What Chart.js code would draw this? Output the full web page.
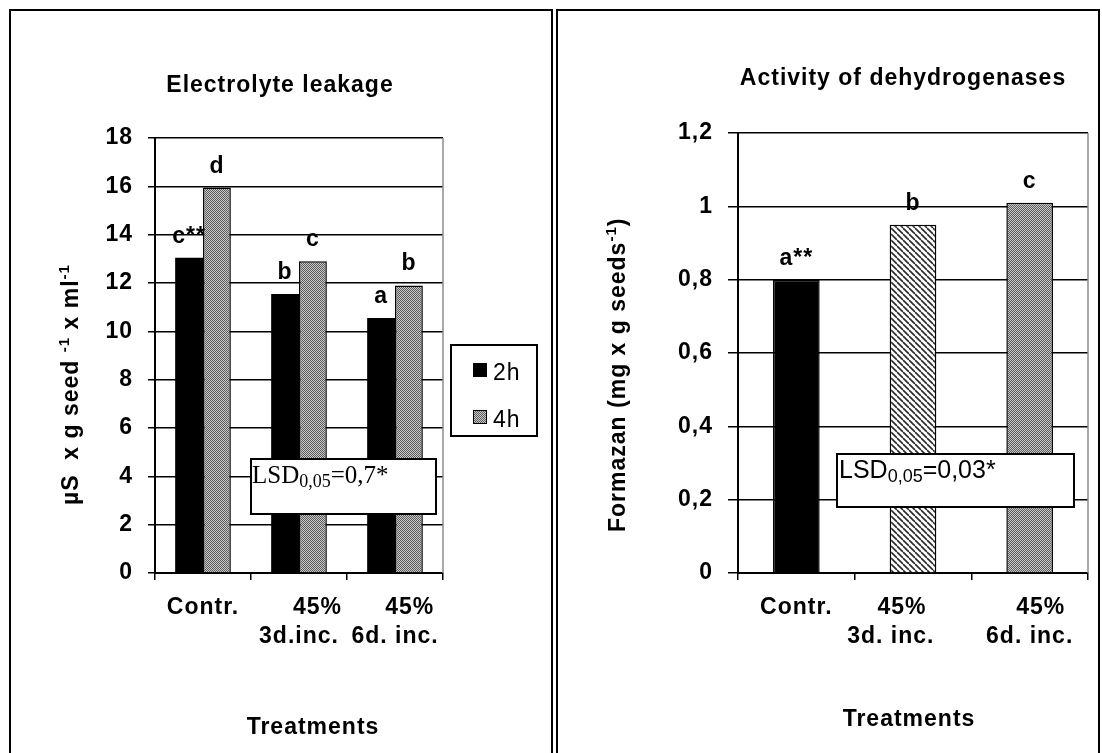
<!DOCTYPE html>
<html><head><meta charset="utf-8">
<script src="https://cdn.jsdelivr.net/npm/chart.js@4/dist/chart.umd.min.js"></script>
<style>
html,body{margin:0;padding:0;background:#fff;overflow:hidden;}
#wrap{position:relative;width:1102px;height:753px;overflow:hidden;background:#fff;}
canvas{position:absolute;top:0;}
#c1{left:0;} #c2{left:555px;}
.panel{position:absolute;top:9px;height:800px;border:2px solid #000;box-sizing:border-box;pointer-events:none;}
</style></head><body>
<div id="wrap">
<canvas id="c1" width="555" height="753"></canvas>
<canvas id="c2" width="547" height="753"></canvas>
<div class="panel" style="left:9px;width:544px"></div>
<div class="panel" style="left:556px;width:544px"></div>
</div>
<script>
// ---------- data ----------
const leftCategories = ['Contr.', ['     45%', '3d.inc.'], ['    45%', '6d. inc.']];
const leftSeriesNames = ['2h', '4h'];
const leakage2h = [13.05, 11.55, 10.55];
const leakage4h = [15.95, 12.9, 11.9];
const leftLetters2h = ['c**', 'b', 'a'];
const leftLetters4h = ['d', 'c', 'b'];
const leftTickLabels = ['0', '2', '4', '6', '8', '10', '12', '14', '16', '18'];

const rightCategories = ['Contr.', ['45%   ', '3d. inc.      '], ['   45%', '6d. inc.']];
const formazan = [0.80, 0.95, 1.01];
const rightLetters = ['a**', 'b', 'c'];
const rightTickLabels = ['0', '0,2', '0,4', '0,6', '0,8', '1', '1,2'];

// ---------- styles ----------
const FONT = "'Liberation Sans', Arial, sans-serif";
const SERIF = "'Liberation Serif', 'Times New Roman', serif";

function makeDots() {
  const c = document.createElement('canvas'); c.width = 2; c.height = 2;
  const x = c.getContext('2d');
  x.fillStyle = '#c9c9c9'; x.fillRect(0, 0, 2, 2);
  x.fillStyle = '#5c5c5c'; x.fillRect(0, 0, 1, 1); x.fillRect(1, 1, 1, 1);
  return x.createPattern(c, 'repeat');
}
function makeStripes() {
  const c = document.createElement('canvas'); c.width = 6; c.height = 6;
  const x = c.getContext('2d');
  x.fillStyle = '#fff'; x.fillRect(0, 0, 6, 6);
  x.strokeStyle = '#2a2a2a'; x.lineWidth = 1.6;
  for (let k = -1; k <= 1; k++) {
    x.beginPath(); x.moveTo(0, k * 6); x.lineTo(6, 6 + k * 6); x.stroke();
  }
  return x.createPattern(c, 'repeat');
}
const dots = makeDots();
const stripes = makeStripes();

function drawParts(ctx, x, y, parts) {
  parts.forEach(p => {
    ctx.font = p.f;
    ctx.fillText(p.t, x, y + (p.dy || 0));
    x += ctx.measureText(p.t).width;
  });
}

const decor = {
  id: 'decor',
  beforeDraw(chart) { chart.ctx.letterSpacing = '1px'; },
  afterDatasetsDraw(chart) {
    const o = chart.options.plugins.decor, ctx = chart.ctx;
    ctx.save();
    ctx.letterSpacing = '1px';
    ctx.fillStyle = '#000';
    ctx.font = 'bold 23px ' + FONT;
    ctx.textAlign = 'center'; ctx.textBaseline = 'alphabetic';
    o.letters.forEach((arr, di) => {
      chart.getDatasetMeta(di).data.forEach((bar, i) => ctx.fillText(arr[i], bar.x, bar.y - 15));
    });
    // LSD box
    const b = o.lsd;
    ctx.fillStyle = '#fff'; ctx.fillRect(b.x, b.y, b.w, b.h);
    ctx.strokeStyle = '#000'; ctx.lineWidth = 2; ctx.strokeRect(b.x, b.y, b.w, b.h);
    ctx.fillStyle = '#000'; ctx.textAlign = 'left'; ctx.letterSpacing = '0px';
    drawParts(ctx, b.tx, b.ty, b.parts);
    ctx.restore();
  },
  afterDraw(chart) {
    const o = chart.options.plugins.decor, ctx = chart.ctx, a = chart.chartArea;
    ctx.save();
    // plot right border (gray)
    ctx.strokeStyle = '#8c8c8c'; ctx.lineWidth = 1.5;
    ctx.beginPath(); ctx.moveTo(a.right, a.top); ctx.lineTo(a.right, a.bottom); ctx.stroke();
    ctx.letterSpacing = '1px';
    ctx.fillStyle = '#000'; ctx.textBaseline = 'alphabetic';
    ctx.font = 'bold 23px ' + FONT; ctx.textAlign = 'center';
    ctx.fillText(o.title.t, o.title.x, o.title.y);
    ctx.fillText(o.xTitle.t, o.xTitle.x, o.xTitle.y);
    // y title rotated
    ctx.save();
    ctx.translate(o.yTitle.x, o.yTitle.y); ctx.rotate(-Math.PI / 2);
    ctx.textAlign = 'left';
    drawParts(ctx, 0, 0, o.yTitle.parts);
    ctx.restore();
    // legend
    if (o.legend) {
      const L = o.legend;
      ctx.strokeStyle = '#000'; ctx.lineWidth = 2;
      ctx.strokeRect(L.x, L.y, L.w, L.h);
      ctx.font = '23px ' + FONT; ctx.textAlign = 'left';
      chart.data.datasets.forEach((ds, i) => {
        const sy = L.y + 18 + i * 47;
        ctx.fillStyle = ds.backgroundColor;
        ctx.fillRect(L.x + 22, sy, 14, 14);
        if (i > 0) { ctx.lineWidth = 1; ctx.strokeStyle = '#000'; ctx.strokeRect(L.x + 22.5, sy + 0.5, 13, 13); }
        ctx.fillStyle = '#000';
        ctx.fillText(ds.label, L.x + 42, sy + 17);
      });
    }
    ctx.restore();
  }
};

const tickFont = { family: FONT, size: 23, weight: 'bold', lineHeight: 1.23 };

function xScale() {
  return {
    grid: { display: true, drawOnChartArea: false, drawTicks: true, tickLength: 7, color: '#000', lineWidth: 1.5, offset: true },
    border: { display: true, color: '#000', width: 2 },
    ticks: { color: '#000', font: tickFont, padding: 14, maxRotation: 0, minRotation: 0, autoSkip: false },
    afterFit(s) { s.height = 100; }
  };
}

// ---------- left chart ----------
new Chart(document.getElementById('c1'), {
  type: 'bar',
  data: {
    labels: leftCategories,
    datasets: [
      { label: leftSeriesNames[0], data: leakage2h, backgroundColor: '#000', borderWidth: 0 },
      { label: leftSeriesNames[1], data: leakage4h, backgroundColor: dots, borderColor: '#000', borderWidth: 1.5 }
    ]
  },
  options: {
    responsive: false, animation: false, devicePixelRatio: 1,
    layout: { padding: { left: 0, top: 138, right: 112, bottom: 80 } },
    datasets: { bar: { categoryPercentage: 0.58, barPercentage: 1 } },
    plugins: {
      legend: { display: false }, title: { display: false }, tooltip: { enabled: false },
      decor: {
        letters: [leftLetters2h, leftLetters4h],
        title: { t: 'Electrolyte leakage', x: 280, y: 92 },
        xTitle: { t: 'Treatments', x: 313, y: 734 },
        yTitle: { x: 78, y: 505, parts: [
          { t: 'µS  x g seed ', f: 'bold 23px ' + FONT },
          { t: '-1', f: 'bold 15px ' + FONT, dy: -9 },
          { t: ' x ml', f: 'bold 23px ' + FONT },
          { t: '-1', f: 'bold 15px ' + FONT, dy: -9 }
        ] },
        lsd: { x: 251, y: 459, w: 185, h: 55, tx: 252, ty: 482.5, parts: [
          { t: 'LSD', f: '25px ' + SERIF },
          { t: '0,05', f: '18px ' + SERIF, dy: 4 },
          { t: '=0,7*', f: '25px ' + SERIF }
        ] },
        legend: { x: 451, y: 345, w: 86, h: 91 }
      }
    },
    scales: {
      x: xScale(),
      y: {
        min: 0, max: 18,
        ticks: { stepSize: 2, color: '#000', font: tickFont, padding: 15, callback: (v, i) => leftTickLabels[i] },
        grid: { color: '#000', lineWidth: 1.5, tickLength: 7, drawTicks: true },
        border: { color: '#000', width: 2 },
        afterFit(s) { s.width = 155; }
      }
    }
  },
  plugins: [decor]
});

// ---------- right chart ----------
new Chart(document.getElementById('c2'), {
  type: 'bar',
  data: {
    labels: rightCategories,
    datasets: [
      { label: 'Formazan', data: formazan, backgroundColor: ['#000', stripes, dots], borderColor: '#000', borderWidth: 1.5 }
    ]
  },
  options: {
    responsive: false, animation: false, devicePixelRatio: 1,
    layout: { padding: { left: 0, top: 133, right: 14, bottom: 80 } },
    datasets: { bar: { categoryPercentage: 0.4, barPercentage: 1 } },
    plugins: {
      legend: { display: false }, title: { display: false }, tooltip: { enabled: false },
      decor: {
        letters: [rightLetters],
        title: { t: 'Activity of dehydrogenases', x: 348, y: 85 },
        xTitle: { t: 'Treatments', x: 354, y: 726 },
        yTitle: { x: 70, y: 532, parts: [
          { t: 'Formazan (mg x g seeds', f: 'bold 23px ' + FONT },
          { t: '-1', f: 'bold 15px ' + FONT, dy: -9 },
          { t: ')', f: 'bold 23px ' + FONT }
        ] },
        lsd: { x: 282, y: 454, w: 237, h: 53, tx: 284, ty: 477.5, parts: [
          { t: 'LSD', f: '25px ' + FONT },
          { t: '0,05', f: '18px ' + FONT, dy: 4.5 },
          { t: '=0,03*', f: '25px ' + FONT }
        ] },
        legend: null
      }
    },
    scales: {
      x: xScale(),
      y: {
        min: 0, max: 1.2,
        ticks: { stepSize: 0.2, color: '#000', font: tickFont, padding: 15, callback: (v, i) => rightTickLabels[i] },
        grid: { color: '#000', lineWidth: 1.5, tickLength: 10, drawTicks: true },
        border: { color: '#000', width: 2 },
        afterFit(s) { s.width = 183; }
      }
    }
  },
  plugins: [decor]
});
</script>
</body></html>
